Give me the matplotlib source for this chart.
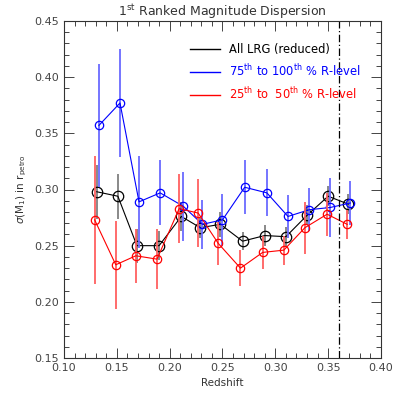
import matplotlib
matplotlib.use("Agg")
from matplotlib import pyplot as plt
from matplotlib.ticker import MultipleLocator

# All LRG (reduced)
z_all = [0.131, 0.151, 0.169, 0.190, 0.211, 0.229, 0.248, 0.269, 0.290, 0.310, 0.330, 0.350, 0.369]
s_all = [0.298, 0.294, 0.250, 0.250, 0.276, 0.266, 0.269, 0.254, 0.259, 0.258, 0.277, 0.294, 0.287]
e_all = [0.024, 0.020, 0.015, 0.013, 0.013, 0.009, 0.011, 0.008, 0.009, 0.009, 0.009, 0.009, 0.009]

# 75th to 100th % R-level
z_hi = [0.133, 0.153, 0.171, 0.191, 0.213, 0.231, 0.250, 0.271, 0.292, 0.312, 0.332, 0.352, 0.371]
s_hi = [0.357, 0.377, 0.289, 0.297, 0.285, 0.269, 0.273, 0.302, 0.297, 0.276, 0.282, 0.284, 0.288]
e_hi = [0.055, 0.048, 0.041, 0.029, 0.031, 0.022, 0.023, 0.024, 0.021, 0.019, 0.019, 0.026, 0.020]

# 25th to 50th % R-level
z_lo = [0.129, 0.149, 0.168, 0.188, 0.209, 0.227, 0.246, 0.267, 0.288, 0.308, 0.328, 0.349, 0.368]
s_lo = [0.273, 0.233, 0.241, 0.238, 0.283, 0.279, 0.252, 0.230, 0.244, 0.246, 0.266, 0.278, 0.269]
e_lo = [0.057, 0.039, 0.024, 0.027, 0.031, 0.030, 0.019, 0.016, 0.015, 0.013, 0.023, 0.019, 0.013]

z_cut = 0.36

plt.rcParams['font.family'] = 'DejaVu Sans'
fig = plt.figure(figsize=(4, 4), dpi=100)
ax = fig.add_axes([0.16, 0.105, 0.7925, 0.8425])

series = [
    (z_all, s_all, e_all, 'black', '#808080', 7.5, 'All LRG (reduced)'),
    (z_hi, s_hi, e_hi, '#0000ff', '#6a6aff', 6, r'75$^{\mathrm{th}}$ to 100$^{\mathrm{th}}$ % R-level'),
    (z_lo, s_lo, e_lo, '#ff0000', '#ff6060', 6, r'25$^{\mathrm{th}}$ to  50$^{\mathrm{th}}$ % R-level'),
]
handles = []
for z, s, e, col, ecol, ms, lab in series:
    ax.errorbar(z, s, yerr=e, fmt='none', ecolor=ecol, elinewidth=1.3, capsize=0)
    h, = ax.plot(z, s, '-', color=col, lw=0.8, marker='o', mfc='none',
                 mec=col, mew=0.9, ms=ms, label=lab)
    handles.append(h)

ax.axvline(z_cut, color='black', lw=0.9, ls=(0, (6, 2, 1, 2)))

ax.set_xlim(0.10, 0.40)
ax.set_ylim(0.15, 0.45)
ax.xaxis.set_major_locator(MultipleLocator(0.05))
ax.xaxis.set_minor_locator(MultipleLocator(0.01))
ax.yaxis.set_major_locator(MultipleLocator(0.05))
ax.yaxis.set_minor_locator(MultipleLocator(0.01))
ax.xaxis.set_major_formatter(plt.FormatStrFormatter('%.2f'))
ax.yaxis.set_major_formatter(plt.FormatStrFormatter('%.2f'))
ax.tick_params(which='both', direction='in', top=True, right=True,
               labelsize=8, colors='#444444', width=0.7)
ax.tick_params(which='major', length=7)
ax.tick_params(which='minor', length=3.5)
for sp in ax.spines.values():
    sp.set_linewidth(0.8)
    sp.set_color('#333333')

ax.set_title(r'1$^{\mathrm{st}}$ Ranked Magnitude Dispersion', fontsize=9, color='#333333', pad=3)
ax.set_xlabel('Redshift', fontsize=7.5, color='#333333')
ax.set_ylabel(r'$\sigma$(M$_1$) in r$_{\mathrm{petro}}$', fontsize=7.5, color='#333333')

leg = ax.legend(handles=[plt.Line2D([], [], color=h.get_color(), lw=1) for h in handles],
                labels=[h.get_label() for h in handles],
                loc='upper left', bbox_to_anchor=(0.365, 0.965), frameon=False,
                fontsize=8.3, handlelength=2.6, labelspacing=0.62, handletextpad=0.8)
for txt, h in zip(leg.get_texts(), handles):
    txt.set_color(h.get_color())

fig.savefig('out.png', dpi=100)
